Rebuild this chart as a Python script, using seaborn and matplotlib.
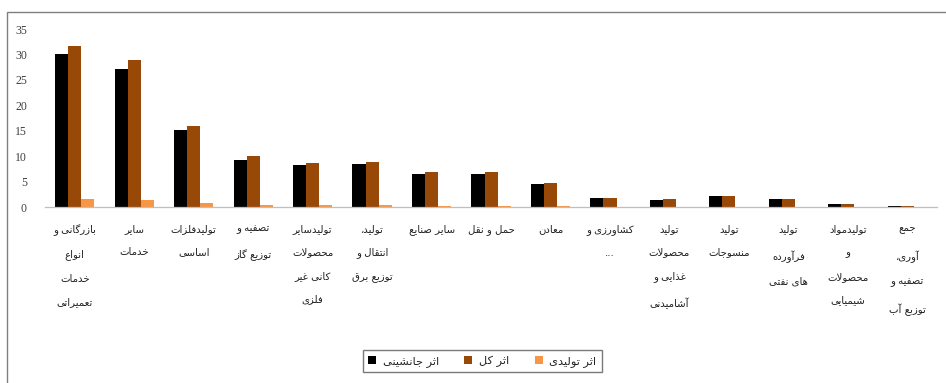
import matplotlib
matplotlib.use("Agg")
import matplotlib.pyplot as plt
import seaborn as sns
import pandas as pd
from matplotlib.patches import Patch, Rectangle

# ---- data -------------------------------------------------------------
categories = [
    "بازرگانی و\nانواع\nخدمات\nتعمیراتی",
    "سایر\nخدمات",
    "تولیدفلزات\nاساسی",
    "تصفیه و\nتوزیع گاز",
    "تولیدسایر\nمحصولات\nکانی غیر\nفلزی",
    "تولید،\nانتقال و\nتوزیع برق",
    "سایر صنایع",
    "حمل و نقل",
    "معادن",
    "کشاورزی و\n...",
    "تولید\nمحصولات\nغذایی و\nآشامیدنی",
    "تولید\nمنسوجات",
    "تولید\nفرآورده\nهای نفتی",
    "تولیدمواد\nو\nمحصولات\nشیمیایی",
    "جمع\nآوری،\nتصفیه و\nتوزیع آب",
]
series_names = ["اثر جانشینی", "اثر کل", "اثر تولیدی"]
substitution = [30.2, 27.2, 15.1, 9.2, 8.2, 8.4, 6.5, 6.5, 4.5, 1.7, 1.4, 2.1, 1.6, 0.5, 0.2]
total = [31.7, 28.9, 15.9, 10.0, 8.7, 8.8, 6.9, 6.9, 4.8, 1.7, 1.5, 2.1, 1.6, 0.5, 0.2]
production = [1.5, 1.4, 0.7, 0.4, 0.3, 0.3, 0.2, 0.2, 0.15, 0.05, 0.1, 0.05, 0.05, 0.02, 0.01]
y_ticks = [0, 5, 10, 15, 20, 25, 30, 35]
colors = ["#000000", "#984807", "#F79646"]

# ---- minimal Arabic/Persian shaping (contextual forms + RTL order) -----
# (isolated, final, initial, medial); right-joining letters have no initial/medial
FORMS = {
    "\u0627": ("\uFE8D", "\uFE8E", None, None),
    "\u0622": ("\uFE81", "\uFE82", None, None),
    "\u0628": ("\uFE8F", "\uFE90", "\uFE91", "\uFE92"),
    "\u067E": ("\uFB56", "\uFB57", "\uFB58", "\uFB59"),
    "\u062A": ("\uFE95", "\uFE96", "\uFE97", "\uFE98"),
    "\u062B": ("\uFE99", "\uFE9A", "\uFE9B", "\uFE9C"),
    "\u062C": ("\uFE9D", "\uFE9E", "\uFE9F", "\uFEA0"),
    "\u0686": ("\uFB7A", "\uFB7B", "\uFB7C", "\uFB7D"),
    "\u062D": ("\uFEA1", "\uFEA2", "\uFEA3", "\uFEA4"),
    "\u062E": ("\uFEA5", "\uFEA6", "\uFEA7", "\uFEA8"),
    "\u062F": ("\uFEA9", "\uFEAA", None, None),
    "\u0630": ("\uFEAB", "\uFEAC", None, None),
    "\u0631": ("\uFEAD", "\uFEAE", None, None),
    "\u0632": ("\uFEAF", "\uFEB0", None, None),
    "\u0698": ("\uFB8A", "\uFB8B", None, None),
    "\u0633": ("\uFEB1", "\uFEB2", "\uFEB3", "\uFEB4"),
    "\u0634": ("\uFEB5", "\uFEB6", "\uFEB7", "\uFEB8"),
    "\u0635": ("\uFEB9", "\uFEBA", "\uFEBB", "\uFEBC"),
    "\u0636": ("\uFEBD", "\uFEBE", "\uFEBF", "\uFEC0"),
    "\u0637": ("\uFEC1", "\uFEC2", "\uFEC3", "\uFEC4"),
    "\u0638": ("\uFEC5", "\uFEC6", "\uFEC7", "\uFEC8"),
    "\u0639": ("\uFEC9", "\uFECA", "\uFECB", "\uFECC"),
    "\u063A": ("\uFECD", "\uFECE", "\uFECF", "\uFED0"),
    "\u0641": ("\uFED1", "\uFED2", "\uFED3", "\uFED4"),
    "\u0642": ("\uFED5", "\uFED6", "\uFED7", "\uFED8"),
    "\u06A9": ("\uFB8E", "\uFB8F", "\uFB90", "\uFB91"),
    "\u06AF": ("\uFB92", "\uFB93", "\uFB94", "\uFB95"),
    "\u0644": ("\uFEDD", "\uFEDE", "\uFEDF", "\uFEE0"),
    "\u0645": ("\uFEE1", "\uFEE2", "\uFEE3", "\uFEE4"),
    "\u0646": ("\uFEE5", "\uFEE6", "\uFEE7", "\uFEE8"),
    "\u0648": ("\uFEED", "\uFEEE", None, None),
    "\u0647": ("\uFEE9", "\uFEEA", "\uFEEB", "\uFEEC"),
    "\u06CC": ("\uFBFC", "\uFBFD", "\uFBFE", "\uFBFF"),
    "\u0626": ("\uFE89", "\uFE8A", "\uFE8B", "\uFE8C"),
    "LA": ("\uFEFB", "\uFEFC", None, None),
}


def shape_line(line):
    chars, i = [], 0
    while i < len(line):
        if line[i] == "\u0644" and i + 1 < len(line) and line[i + 1] == "\u0627":
            chars.append("LA")
            i += 2
        else:
            chars.append(line[i])
            i += 1
    out = []
    for k, c in enumerate(chars):
        f = FORMS.get(c)
        if f is None:
            out.append(c)
            continue
        prev = chars[k - 1] if k > 0 else None
        nxt = chars[k + 1] if k + 1 < len(chars) else None
        join_prev = prev in FORMS and FORMS[prev][2] is not None
        join_next = f[2] is not None and nxt in FORMS
        if join_prev and join_next:
            out.append(f[3])
        elif join_prev:
            out.append(f[1])
        elif join_next:
            out.append(f[2])
        else:
            out.append(f[0])
    return "".join(reversed(out))


def shape(text):
    return "\n".join(shape_line(l) for l in text.split("\n"))


# ---- table ------------------------------------------------------------
df = pd.DataFrame({
    "sector": categories * 3,
    "series": [series_names[0]] * len(categories)
    + [series_names[1]] * len(categories)
    + [series_names[2]] * len(categories),
    "value": substitution + total + production,
})

# ---- figure -----------------------------------------------------------
sns.set_theme(style="white")
plt.rcParams["font.family"] = ["Liberation Serif", "DejaVu Sans"]

fig = plt.figure(figsize=(9.46, 3.83), dpi=100)
ax = fig.add_axes([0.0476, 0.4595, 0.943, 0.4645])

sns.barplot(
    data=df, x="sector", y="value", hue="series",
    order=categories, hue_order=series_names, palette=colors,
    width=0.66, gap=0, saturation=1, errorbar=None, legend=False,
    linewidth=0, edgecolor="none", ax=ax,
)

ax.set_ylim(0, 35)
ax.set_yticks(y_ticks)
ax.set_yticklabels([str(t) for t in y_ticks], fontsize=8.5, color="#404040")
ax.tick_params(axis="y", length=0, pad=13)
ax.set_xlim(-0.5, len(categories) - 0.5)
ax.set_xticks(range(len(categories)))
ax.set_xticklabels([shape(c) for c in categories], fontsize=7.3,
                   family="DejaVu Sans", color="#202020",
                   linespacing=2.7, va="top")
ax.tick_params(axis="x", length=0, pad=12)
ax.set_xlabel("")
ax.set_ylabel("")
for side in ["top", "right", "left"]:
    ax.spines[side].set_visible(False)
ax.spines["bottom"].set_color("#BFBFBF")
ax.spines["bottom"].set_linewidth(0.9)

handles = [Patch(facecolor=c, edgecolor="none") for c in colors]
leg = fig.legend(
    handles, [shape(s) for s in series_names], loc="center",
    bbox_to_anchor=(0.51, 0.057), ncol=3, frameon=True, fancybox=False,
    prop={"family": "DejaVu Sans", "size": 8.2}, handlelength=0.7,
    handleheight=0.8, handletextpad=0.6, columnspacing=2.2,
    borderpad=0.45, borderaxespad=0,
)
leg.get_frame().set_edgecolor("#595959")
leg.get_frame().set_linewidth(1.0)

# thin frame around the chart
fig.patches.append(Rectangle((0.0075, -0.5), 1.5, 1.5 - 12 / 383,
                             transform=fig.transFigure, fill=False,
                             edgecolor="#7F7F7F", linewidth=1.0))

fig.savefig("out.png", dpi=100)
